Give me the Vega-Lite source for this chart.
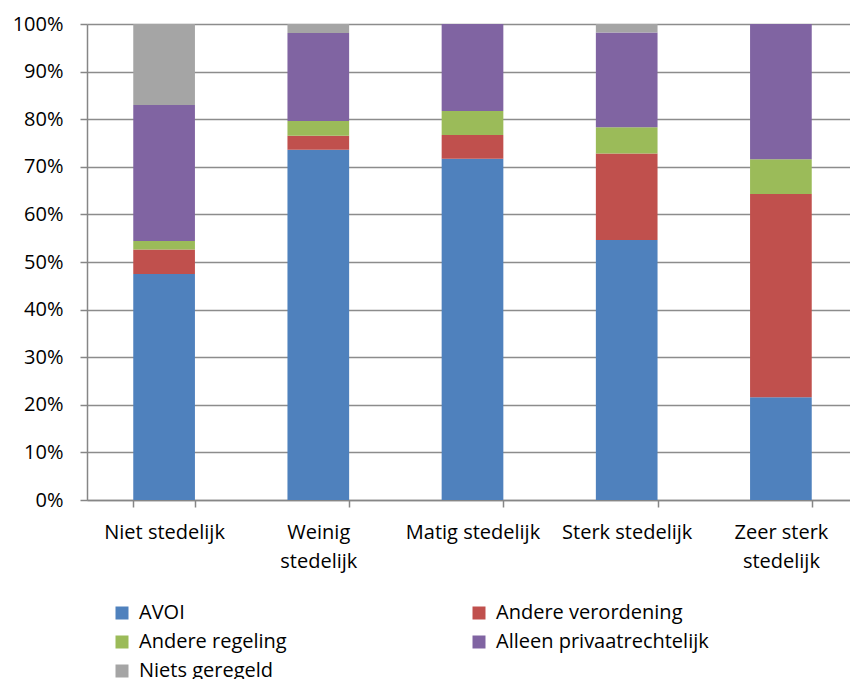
{
  "$schema": "https://vega.github.io/schema/vega-lite/v6.json",
  "autosize": {"type": "none"},
  "padding": {"left": 87, "top": 24, "right": -8, "bottom": 179},
  "width": 771,
  "height": 476,
  "background": "white",
  "config": {
    "font": "Open Sans",
    "view": {"stroke": null}
  },
  "data": {
    "values": [
      {"gebied": "Niet stedelijk", "type": "AVOI", "n": 1, "pct": 47.5},
      {"gebied": "Niet stedelijk", "type": "Andere verordening", "n": 2, "pct": 5.1},
      {"gebied": "Niet stedelijk", "type": "Andere regeling", "n": 3, "pct": 1.8},
      {"gebied": "Niet stedelijk", "type": "Alleen privaatrechtelijk", "n": 4, "pct": 28.6},
      {"gebied": "Niet stedelijk", "type": "Niets geregeld", "n": 5, "pct": 17.0},
      {"gebied": "Weinig stedelijk", "type": "AVOI", "n": 1, "pct": 73.6},
      {"gebied": "Weinig stedelijk", "type": "Andere verordening", "n": 2, "pct": 2.9},
      {"gebied": "Weinig stedelijk", "type": "Andere regeling", "n": 3, "pct": 3.1},
      {"gebied": "Weinig stedelijk", "type": "Alleen privaatrechtelijk", "n": 4, "pct": 18.5},
      {"gebied": "Weinig stedelijk", "type": "Niets geregeld", "n": 5, "pct": 1.9},
      {"gebied": "Matig stedelijk", "type": "AVOI", "n": 1, "pct": 71.7},
      {"gebied": "Matig stedelijk", "type": "Andere verordening", "n": 2, "pct": 5.0},
      {"gebied": "Matig stedelijk", "type": "Andere regeling", "n": 3, "pct": 5.0},
      {"gebied": "Matig stedelijk", "type": "Alleen privaatrechtelijk", "n": 4, "pct": 18.3},
      {"gebied": "Matig stedelijk", "type": "Niets geregeld", "n": 5, "pct": 0},
      {"gebied": "Sterk stedelijk", "type": "AVOI", "n": 1, "pct": 54.6},
      {"gebied": "Sterk stedelijk", "type": "Andere verordening", "n": 2, "pct": 18.2},
      {"gebied": "Sterk stedelijk", "type": "Andere regeling", "n": 3, "pct": 5.5},
      {"gebied": "Sterk stedelijk", "type": "Alleen privaatrechtelijk", "n": 4, "pct": 19.9},
      {"gebied": "Sterk stedelijk", "type": "Niets geregeld", "n": 5, "pct": 1.8},
      {"gebied": "Zeer sterk stedelijk", "type": "AVOI", "n": 1, "pct": 21.6},
      {"gebied": "Zeer sterk stedelijk", "type": "Andere verordening", "n": 2, "pct": 42.7},
      {"gebied": "Zeer sterk stedelijk", "type": "Andere regeling", "n": 3, "pct": 7.3},
      {"gebied": "Zeer sterk stedelijk", "type": "Alleen privaatrechtelijk", "n": 4, "pct": 28.4},
      {"gebied": "Zeer sterk stedelijk", "type": "Niets geregeld", "n": 5, "pct": 0}
    ]
  },
  "mark": {"type": "bar"},
  "encoding": {
    "x": {
      "field": "gebied",
      "type": "nominal",
      "sort": ["Niet stedelijk", "Weinig stedelijk", "Matig stedelijk", "Sterk stedelijk", "Zeer sterk stedelijk"],
      "scale": {"paddingInner": 0.6, "paddingOuter": 0.3},
      "axis": {
        "title": null,
        "labelAngle": 0,
        "tickBand": "extent",
        "grid": false,
        "domainColor": "#868686",
        "domainWidth": 1.5,
        "tickColor": "#868686",
        "tickWidth": 1.5,
        "tickSize": 7,
        "labelPadding": 15,
        "labelFontSize": 20,
        "labelColor": "#000000",
        "labelLineHeight": 29,
        "labelLimit": 300,
        "labelExpr": "datum.label == 'Weinig stedelijk' ? ['Weinig', 'stedelijk'] : datum.label == 'Zeer sterk stedelijk' ? ['Zeer sterk', 'stedelijk'] : datum.label"
      }
    },
    "y": {
      "field": "pct",
      "type": "quantitative",
      "stack": "normalize",
      "scale": {"domain": [0, 1]},
      "axis": {
        "title": null,
        "values": [0, 0.1, 0.2, 0.3, 0.4, 0.5, 0.6, 0.7, 0.8, 0.9, 1],
        "format": ".0%",
        "grid": true,
        "gridColor": "#8c8c8c",
        "gridWidth": 1.5,
        "domainColor": "#868686",
        "domainWidth": 1.5,
        "tickColor": "#868686",
        "tickWidth": 1.5,
        "tickSize": 7,
        "labelPadding": 17,
        "labelFontSize": 20,
        "labelColor": "#000000"
      }
    },
    "color": {
      "field": "type",
      "type": "nominal",
      "scale": {
        "domain": ["AVOI", "Andere verordening", "Andere regeling", "Alleen privaatrechtelijk", "Niets geregeld"],
        "range": ["#4F81BD", "#C0504D", "#9BBB59", "#8064A2", "#A5A5A5"]
      },
      "legend": {
        "title": null,
        "orient": "none",
        "direction": "horizontal",
        "legendX": 25,
        "legendY": 579,
        "columns": 2,
        "columnPadding": 182,
        "rowPadding": 9,
        "symbolType": "square",
        "symbolSize": 169,
        "symbolStrokeWidth": 0,
        "labelFontSize": 20,
        "labelColor": "#000000",
        "labelOffset": 7,
        "labelLimit": 300
      }
    },
    "order": {"field": "n", "type": "quantitative", "sort": "ascending"}
  }
}
